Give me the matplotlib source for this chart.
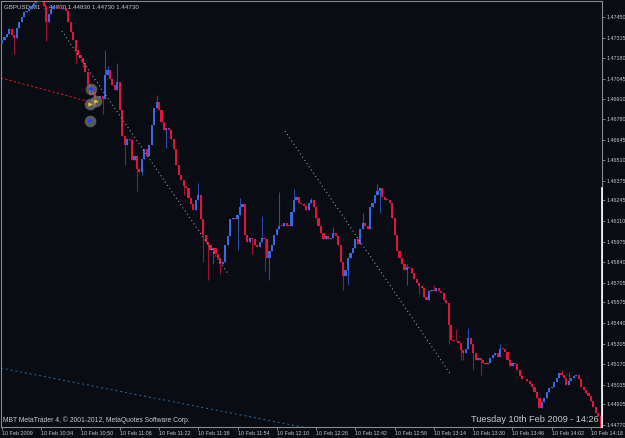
import matplotlib
matplotlib.use("Agg")
import matplotlib.pyplot as plt

# GBPUSD M1, 10 Feb 2009, one close per minute from 10:18
first_open = 1.4728
closes = [
    1.4730, 1.4732, 1.4734, 1.4737, 1.4733, 1.4731, 1.4738, 1.4742, 1.4745, 1.4748,
    1.4749, 1.4750, 1.4752, 1.4754, 1.4755, 1.4755, 1.4755, 1.4752, 1.4742, 1.4747,
    1.4750, 1.4752, 1.4752, 1.4751, 1.4750, 1.4751, 1.4749, 1.4742, 1.4735, 1.4730,
    1.4723, 1.4720, 1.4718, 1.4715, 1.4709, 1.4700, 1.4694, 1.4696, 1.4692, 1.4692,
    1.4693, 1.4691, 1.4707, 1.4710, 1.4704, 1.4700, 1.4697, 1.4702, 1.4684, 1.4667,
    1.4661, 1.4665, 1.4664, 1.4651, 1.4654, 1.4645, 1.4643, 1.4652, 1.4658, 1.4654,
    1.4661, 1.4674, 1.4685, 1.4689, 1.4684, 1.4676, 1.4671, 1.4672, 1.4671, 1.4665,
    1.4658, 1.4648, 1.4641, 1.4638, 1.4634, 1.4633, 1.4626, 1.4622, 1.4618, 1.4625,
    1.4628, 1.4612, 1.4602, 1.4597, 1.4595, 1.4592, 1.4593, 1.4589, 1.4587, 1.4583,
    1.4584, 1.4595, 1.4601, 1.4612, 1.4613, 1.4612, 1.4615, 1.4620, 1.4622, 1.4602,
    1.4597, 1.4600, 1.4599, 1.4595, 1.4594, 1.4597, 1.4600, 1.4599, 1.4587, 1.4591,
    1.4595, 1.4602, 1.4606, 1.4608, 1.4608, 1.4610, 1.4608, 1.4608, 1.4617, 1.4625,
    1.4627, 1.4623, 1.4622, 1.4621, 1.4618, 1.4623, 1.4625, 1.4620, 1.4613, 1.4608,
    1.4603, 1.4599, 1.4601, 1.4599, 1.4600, 1.4603, 1.4601, 1.4595, 1.4584, 1.4575,
    1.4579, 1.4587, 1.4590, 1.4593, 1.4599, 1.4596, 1.4606, 1.4610, 1.4608, 1.4606,
    1.4620, 1.4623, 1.4628, 1.4631, 1.4633, 1.4627, 1.4625, 1.4625, 1.4623, 1.4613,
    1.4602, 1.4591, 1.4587, 1.4583, 1.4579, 1.4581, 1.4580, 1.4577, 1.4573, 1.4570,
    1.4568, 1.4567, 1.4561, 1.4559, 1.4565, 1.4566, 1.4565, 1.4567, 1.4565, 1.4564,
    1.4559, 1.4557, 1.4543, 1.4533, 1.4532, 1.4532, 1.4531, 1.4526, 1.4524, 1.4527,
    1.4534, 1.4530, 1.4524, 1.4520, 1.4521, 1.4520, 1.4518, 1.4517, 1.4518, 1.4521,
    1.4523, 1.4524, 1.4522, 1.4527, 1.4527, 1.4525, 1.4520, 1.4516, 1.4518, 1.4517,
    1.4513, 1.4509, 1.4507, 1.4507, 1.4506, 1.4504, 1.4502, 1.4499, 1.4495, 1.4488,
    1.4492, 1.4495, 1.4499, 1.4501, 1.4502, 1.4505, 1.4508, 1.4511, 1.4510, 1.4508,
    1.4503, 1.4506, 1.4508, 1.4509, 1.4510, 1.4507, 1.4502, 1.4500, 1.4498, 1.4496,
    1.4493, 1.4489, 1.4485, 1.4483, 1.4473,
]

# bars whose high / low stick out past the body: index -> (high, low)
wicks = {
    5: (None, 1.4721), 18: (None, 1.4729), 30: (None, 1.4715), 33: (None, 1.4712),
    41: (None, 1.4681), 42: (1.4723, None), 43: (1.4713, None), 47: (1.4715, None),
    50: (None, 1.4648), 55: (None, 1.4631), 57: (None, 1.4641), 63: (1.4694, None),
    67: (None, 1.4659), 74: (None, 1.4628), 80: (1.4636, None), 82: (None, 1.4584),
    84: (None, 1.4572), 86: (None, 1.4583), 89: (None, 1.4576), 96: (None, 1.4592),
    97: (1.4626, None), 102: (None, 1.4589), 106: (1.4614, None), 107: (None, 1.4578),
    109: (None, 1.4572), 113: (1.4630, None), 119: (1.4632, None), 126: (1.4626, None),
    135: (1.4607, None), 139: (None, 1.4566), 141: (None, 1.4569), 147: (1.4616, None),
    153: (1.4635, None), 154: (None, 1.4616), 165: (1.4583, 1.4569), 170: (None, 1.4563),
    176: (1.4569, None), 182: (None, 1.4530), 185: (1.4540, None), 187: (None, 1.4520),
    188: (None, 1.4520), 190: (1.4541, None), 192: (None, 1.4513), 195: (None, 1.4510),
    203: (1.4530, None), 228: (1.4513, None), 231: (1.4512, None),
}

x_ticks = [0, 16, 32, 48, 64, 80, 96, 112, 128, 144, 160, 176, 192, 208, 224, 240]
x_labels = ["10 Feb 2009", "10 Feb 10:34", "10 Feb 10:50", "10 Feb 11:06",
            "10 Feb 11:22", "10 Feb 11:38", "10 Feb 11:54", "10 Feb 12:10",
            "10 Feb 12:26", "10 Feb 12:42", "10 Feb 12:58", "10 Feb 13:14",
            "10 Feb 13:30", "10 Feb 13:46", "10 Feb 14:02", "10 Feb 14:18"]
y_labels = ["1.47450", "1.47315", "1.47180", "1.47045", "1.46910", "1.46780",
            "1.46645", "1.46510", "1.46375", "1.46245", "1.46110", "1.45975",
            "1.45840", "1.45705", "1.45575", "1.45440", "1.45305", "1.45170",
            "1.45035", "1.44905", "1.44770"]

# trade markers and drawn lines (minute, price)
trade_x = [36.3, 35.9, 38.3, 35.9]
trade_y = [1.46977, 1.46879, 1.46898, 1.46767]
trade_kind = ["buy", "close", "close", "buy"]
trade_line_x = [-0.4, 34.6]
trade_line_y = [1.47049, 1.46898]
trend1_x, trend1_y = [24.4, 92.5], [1.47358, 1.45755]
trend2_x, trend2_y = [115.3, 183.0], [1.46701, 1.45098]
channel_x, channel_y = [-0.4, 130.0], [1.45144, 1.44733]

title = "GBPUSD,M1  1.44830 1.44830 1.44730 1.44730"
copyright_text = "MBT MetaTrader 4, \u00a9 2001-2012, MetaQuotes Software Corp."
clock_text = "Tuesday 10th Feb 2009 - 14:26"

BG = "#0a0c14"
UP, DOWN = "#3a66e0", "#e0143c"
UP_WICK, DOWN_WICK = "#2a48a8", "#9c1030"
TXT = "#c8c8c8"
plt.rcParams["font.family"] = ["Liberation Sans", "DejaVu Sans"]

opens = [first_open] + closes[:-1]

fig = plt.figure(figsize=(6.25, 4.38), dpi=100, facecolor=BG)
ax = fig.add_axes([1 / 625, 11 / 438, 601 / 625, 426 / 438], facecolor=BG)

for i, (o, c) in enumerate(zip(opens, closes)):
    up = c > o
    hi, lo = wicks.get(i, (None, None))
    hi = max(o, c) if hi is None else hi
    lo = min(o, c) if lo is None else lo
    ax.vlines(i, lo, hi, color=UP_WICK if up else DOWN_WICK, lw=0.8, zorder=3)
    ax.bar(i, max(abs(c - o), 0.00004), bottom=min(o, c), width=0.88,
           color=UP if up else DOWN, linewidth=0, zorder=4)

ax.plot(trade_line_x, trade_line_y, color="#c02020", lw=0.8, ls=(0, (2, 2)), zorder=2)
ax.plot(trend1_x, trend1_y, color="#b8b8b8", lw=0.7, ls=(0, (1, 3)), zorder=5)
ax.plot(trend2_x, trend2_y, color="#b8b8b8", lw=0.7, ls=(0, (1, 3)), zorder=5)
ax.plot(channel_x, channel_y, color="#2f6a9c", lw=0.7, ls=(0, (2, 3)), zorder=2)

ax.scatter(trade_x, trade_y, s=70, color="#7a7a7a", alpha=0.7, linewidths=0, zorder=6)
for tx, ty, kind in zip(trade_x, trade_y, trade_kind):
    if kind == "buy":
        ax.scatter(tx, ty, s=10, marker="P", color="#2040ff", linewidths=0, zorder=7)
    else:
        ax.scatter(tx, ty, s=10, marker=">", color="#f0c020", linewidths=0, zorder=7)

ax.set_xlim(-0.4, 244.5)
ax.set_ylim(1.44757, 1.47555)

ax.set_xticks(x_ticks)
ax.set_xticklabels(x_labels)
for lbl in ax.get_xticklabels():
    lbl.set_horizontalalignment("left")
ax.set_yticks([float(v) for v in y_labels])
ax.set_yticklabels(y_labels)
ax.yaxis.tick_right()
ax.tick_params(axis="both", colors="#909090", labelcolor=TXT, labelsize=3.9,
               length=2, width=0.6, direction="out", pad=1)

for side in ["left", "right", "top", "bottom"]:
    ax.spines[side].set_color("#8a8a8a")
    ax.spines[side].set_linewidth(0.8)
ax.plot([1, 1], [0, 0.56], transform=ax.transAxes, color="white", lw=1.2,
        clip_on=False, zorder=10)

ax.text(0.005, 0.992, title, transform=ax.transAxes, color=TXT, fontsize=4.4,
        va="top", ha="left", zorder=1)
ax.text(0.004, 0.006, copyright_text, transform=ax.transAxes, color=TXT, fontsize=4.9,
        va="bottom", ha="left", zorder=1)
ax.text(0.995, 0.006, clock_text, transform=ax.transAxes, color=TXT, fontsize=6.6,
        va="bottom", ha="right", zorder=8)

fig.savefig("out.png", dpi=100, facecolor=BG)
